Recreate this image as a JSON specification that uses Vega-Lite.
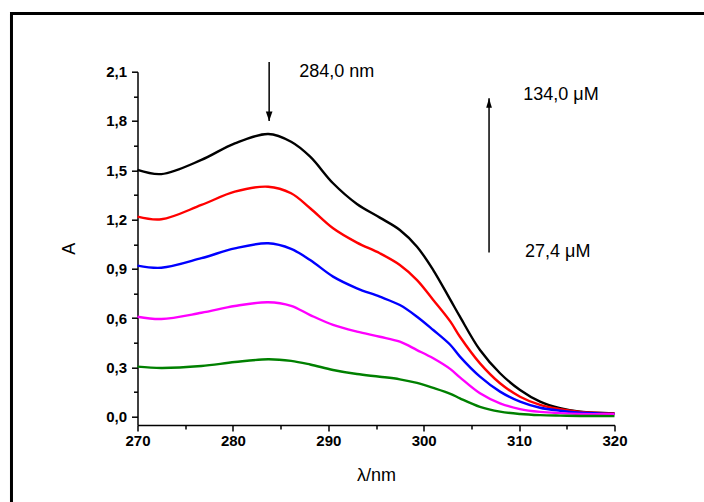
{
  "$schema": "https://vega.github.io/schema/vega-lite/v6.json",
  "width": 477,
  "height": 353.3,
  "autosize": {"type": "none"},
  "padding": {"left": 137.5, "top": 71.7, "right": 89.5, "bottom": 77},
  "background": "white",
  "config": {"view": {"stroke": null}, "font": "Liberation Sans"},
  "resolve": {"axis": {"x": "independent", "y": "independent"}},
  "datasets": {
    "spectra": [
      {"wl": 270, "A": 1.502, "c": "134,0"}, {"wl": 272.5, "A": 1.477, "c": "134,0"}, {"wl": 276.7, "A": 1.563, "c": "134,0"}, {"wl": 280.2, "A": 1.664, "c": "134,0"}, {"wl": 283.7, "A": 1.721, "c": "134,0"}, {"wl": 286.1, "A": 1.674, "c": "134,0"}, {"wl": 288.1, "A": 1.583, "c": "134,0"}, {"wl": 290.5, "A": 1.421, "c": "134,0"}, {"wl": 293.0, "A": 1.295, "c": "134,0"}, {"wl": 295.4, "A": 1.212, "c": "134,0"}, {"wl": 297.5, "A": 1.137, "c": "134,0"}, {"wl": 299.3, "A": 1.035, "c": "134,0"}, {"wl": 301.0, "A": 0.893, "c": "134,0"}, {"wl": 302.8, "A": 0.711, "c": "134,0"}, {"wl": 303.8, "A": 0.609, "c": "134,0"}, {"wl": 305.9, "A": 0.406, "c": "134,0"}, {"wl": 308.0, "A": 0.265, "c": "134,0"}, {"wl": 310.1, "A": 0.163, "c": "134,0"}, {"wl": 312.2, "A": 0.092, "c": "134,0"}, {"wl": 314.3, "A": 0.052, "c": "134,0"}, {"wl": 316.4, "A": 0.031, "c": "134,0"}, {"wl": 320, "A": 0.021, "c": "134,0"},
      {"wl": 270, "A": 1.218, "c": "107,2"}, {"wl": 272.5, "A": 1.202, "c": "107,2"}, {"wl": 276.7, "A": 1.289, "c": "107,2"}, {"wl": 280.2, "A": 1.370, "c": "107,2"}, {"wl": 283.7, "A": 1.400, "c": "107,2"}, {"wl": 286.1, "A": 1.360, "c": "107,2"}, {"wl": 288.1, "A": 1.269, "c": "107,2"}, {"wl": 290.5, "A": 1.147, "c": "107,2"}, {"wl": 293.0, "A": 1.060, "c": "107,2"}, {"wl": 295.4, "A": 0.995, "c": "107,2"}, {"wl": 297.5, "A": 0.924, "c": "107,2"}, {"wl": 299.3, "A": 0.832, "c": "107,2"}, {"wl": 301.0, "A": 0.711, "c": "107,2"}, {"wl": 302.8, "A": 0.579, "c": "107,2"}, {"wl": 303.8, "A": 0.487, "c": "107,2"}, {"wl": 305.9, "A": 0.325, "c": "107,2"}, {"wl": 308.0, "A": 0.204, "c": "107,2"}, {"wl": 310.1, "A": 0.122, "c": "107,2"}, {"wl": 312.2, "A": 0.072, "c": "107,2"}, {"wl": 314.3, "A": 0.046, "c": "107,2"}, {"wl": 316.4, "A": 0.030, "c": "107,2"}, {"wl": 320, "A": 0.020, "c": "107,2"},
      {"wl": 270, "A": 0.920, "c": "80,4"}, {"wl": 272.5, "A": 0.907, "c": "80,4"}, {"wl": 276.7, "A": 0.965, "c": "80,4"}, {"wl": 280.2, "A": 1.025, "c": "80,4"}, {"wl": 283.7, "A": 1.056, "c": "80,4"}, {"wl": 286.1, "A": 1.022, "c": "80,4"}, {"wl": 288.1, "A": 0.954, "c": "80,4"}, {"wl": 290.5, "A": 0.853, "c": "80,4"}, {"wl": 293.0, "A": 0.782, "c": "80,4"}, {"wl": 295.4, "A": 0.731, "c": "80,4"}, {"wl": 297.5, "A": 0.680, "c": "80,4"}, {"wl": 299.3, "A": 0.609, "c": "80,4"}, {"wl": 301.0, "A": 0.528, "c": "80,4"}, {"wl": 302.8, "A": 0.437, "c": "80,4"}, {"wl": 303.8, "A": 0.366, "c": "80,4"}, {"wl": 305.9, "A": 0.244, "c": "80,4"}, {"wl": 308.0, "A": 0.153, "c": "80,4"}, {"wl": 310.1, "A": 0.092, "c": "80,4"}, {"wl": 312.2, "A": 0.055, "c": "80,4"}, {"wl": 314.3, "A": 0.037, "c": "80,4"}, {"wl": 316.4, "A": 0.025, "c": "80,4"}, {"wl": 320, "A": 0.018, "c": "80,4"},
      {"wl": 270, "A": 0.609, "c": "53,6"}, {"wl": 272.5, "A": 0.595, "c": "53,6"}, {"wl": 276.7, "A": 0.633, "c": "53,6"}, {"wl": 280.2, "A": 0.674, "c": "53,6"}, {"wl": 283.7, "A": 0.697, "c": "53,6"}, {"wl": 286.1, "A": 0.675, "c": "53,6"}, {"wl": 288.1, "A": 0.619, "c": "53,6"}, {"wl": 290.5, "A": 0.559, "c": "53,6"}, {"wl": 293.0, "A": 0.518, "c": "53,6"}, {"wl": 295.4, "A": 0.487, "c": "53,6"}, {"wl": 297.5, "A": 0.457, "c": "53,6"}, {"wl": 299.3, "A": 0.406, "c": "53,6"}, {"wl": 301.0, "A": 0.356, "c": "53,6"}, {"wl": 302.8, "A": 0.290, "c": "53,6"}, {"wl": 303.8, "A": 0.240, "c": "53,6"}, {"wl": 305.9, "A": 0.143, "c": "53,6"}, {"wl": 308.0, "A": 0.082, "c": "53,6"}, {"wl": 310.1, "A": 0.047, "c": "53,6"}, {"wl": 312.2, "A": 0.030, "c": "53,6"}, {"wl": 314.3, "A": 0.022, "c": "53,6"}, {"wl": 316.4, "A": 0.017, "c": "53,6"}, {"wl": 320, "A": 0.015, "c": "53,6"},
      {"wl": 270, "A": 0.305, "c": "27,4"}, {"wl": 272.5, "A": 0.297, "c": "27,4"}, {"wl": 276.7, "A": 0.309, "c": "27,4"}, {"wl": 280.2, "A": 0.333, "c": "27,4"}, {"wl": 283.7, "A": 0.350, "c": "27,4"}, {"wl": 286.1, "A": 0.340, "c": "27,4"}, {"wl": 288.1, "A": 0.318, "c": "27,4"}, {"wl": 290.5, "A": 0.285, "c": "27,4"}, {"wl": 293.0, "A": 0.260, "c": "27,4"}, {"wl": 295.4, "A": 0.244, "c": "27,4"}, {"wl": 297.5, "A": 0.228, "c": "27,4"}, {"wl": 299.3, "A": 0.206, "c": "27,4"}, {"wl": 301.0, "A": 0.176, "c": "27,4"}, {"wl": 302.8, "A": 0.140, "c": "27,4"}, {"wl": 303.8, "A": 0.112, "c": "27,4"}, {"wl": 305.9, "A": 0.060, "c": "27,4"}, {"wl": 308.0, "A": 0.031, "c": "27,4"}, {"wl": 310.1, "A": 0.017, "c": "27,4"}, {"wl": 312.2, "A": 0.010, "c": "27,4"}, {"wl": 314.3, "A": 0.007, "c": "27,4"}, {"wl": 316.4, "A": 0.005, "c": "27,4"}, {"wl": 320, "A": 0.004, "c": "27,4"}
    ],
    "arrows": [
      {"wl": 283.8, "from": 2.159, "tip": 1.80, "dir": "down"},
      {"wl": 306.85, "from": 0.999, "tip": 1.938, "dir": "up"}
    ],
    "notes": [
      {"wl": 286.96, "A": 2.097, "label": "284,0 nm"},
      {"wl": 310.44, "A": 1.958, "label": "134,0 μM"},
      {"wl": 310.62, "A": 1.005, "label": "27,4 μM"}
    ]
  },
  "layer": [
    {
      "data": {"name": "spectra"},
      "mark": {"type": "line", "interpolate": "catmull-rom", "strokeWidth": 2.4, "clip": false},
      "encoding": {
        "x": {
          "field": "wl", "type": "quantitative",
          "scale": {"domain": [270, 320], "nice": false, "zero": false},
          "axis": {
            "orient": "bottom",
            "title": "λ/nm",
            "values": [270, 280, 290, 300, 310, 320],
            "format": "d",
            "tickSize": 6,
            "grid": false,
            "domainColor": "black", "domainWidth": 1.5,
            "tickColor": "black", "tickWidth": 1.5,
            "labelFont": "Liberation Sans", "labelFontWeight": "bold", "labelFontSize": 15, "labelColor": "black",
            "labelPadding": 2, "labelFlush": false, "labelOverlap": false,
            "titleFont": "Liberation Sans", "titleFontWeight": "normal", "titleFontSize": 18, "titleColor": "black",
            "titlePadding": 18
          }
        },
        "y": {
          "field": "A", "type": "quantitative",
          "scale": {"domain": [-0.05, 2.1], "nice": false, "zero": false},
          "axis": {
            "orient": "left",
            "title": "A",
            "values": [0, 0.3, 0.6, 0.9, 1.2, 1.5, 1.8, 2.1],
            "labelExpr": "replace(format(datum.value, '.1f'), '.', ',')",
            "tickSize": 6,
            "grid": false,
            "domainColor": "black", "domainWidth": 1.5,
            "tickColor": "black", "tickWidth": 1.5,
            "labelFont": "Liberation Sans", "labelFontWeight": "bold", "labelFontSize": 15, "labelColor": "black",
            "labelPadding": 5, "labelFlush": false, "labelOverlap": false,
            "titleFont": "Liberation Sans", "titleFontWeight": "normal", "titleFontSize": 18, "titleColor": "black",
            "titlePadding": 27
          }
        },
        "color": {
          "field": "c", "type": "nominal",
          "scale": {"domain": ["134,0", "107,2", "80,4", "53,6", "27,4"], "range": ["#000000", "#ff0000", "#0000ff", "#ff00ff", "#008000"]},
          "legend": null
        }
      }
    },
    {
      "data": {"values": [{"frame": "border"}]},
      "mark": {"type": "rect", "filled": false, "stroke": "black", "strokeWidth": 3, "clip": false},
      "encoding": {
        "x": {
          "datum": 256.79, "type": "quantitative",
          "axis": {"orient": "bottom", "values": [275, 285, 295, 305, 315], "tickSize": 4, "tickWidth": 1.5, "tickColor": "black", "labels": false, "domain": false, "grid": false, "title": null}
        },
        "x2": {"datum": 400},
        "y": {
          "datum": 2.454, "type": "quantitative",
          "axis": {"orient": "left", "values": [0.15, 0.45, 0.75, 1.05, 1.35, 1.65, 1.95], "tickSize": 4, "tickWidth": 1.5, "tickColor": "black", "labels": false, "domain": false, "grid": false, "title": null}
        },
        "y2": {"datum": -3}
      }
    },
    {
      "data": {"name": "arrows"},
      "mark": {"type": "rule", "color": "black", "strokeWidth": 1.5, "clip": false},
      "encoding": {
        "x": {"field": "wl", "type": "quantitative", "axis": null},
        "y": {"field": "from", "type": "quantitative", "axis": null},
        "y2": {"field": "tip"}
      }
    },
    {
      "data": {"name": "arrows"},
      "mark": {"type": "point", "filled": true, "color": "black", "opacity": 1, "size": 90, "strokeWidth": 0, "clip": false},
      "encoding": {
        "x": {"field": "wl", "type": "quantitative", "axis": null},
        "y": {"field": "tip", "type": "quantitative", "axis": null},
        "shape": {
          "field": "dir", "type": "nominal",
          "scale": {"domain": ["down", "up"], "range": ["M0,0 L-0.7,-2 L0.7,-2 Z", "M0,0 L-0.6,2 L0.6,2 Z"]},
          "legend": null
        }
      }
    },
    {
      "data": {"name": "notes"},
      "mark": {"type": "text", "align": "left", "baseline": "middle", "font": "Liberation Sans", "fontSize": 18, "color": "black", "clip": false},
      "encoding": {
        "x": {"field": "wl", "type": "quantitative", "axis": null},
        "y": {"field": "A", "type": "quantitative", "axis": null},
        "text": {"field": "label"}
      }
    }
  ]
}
